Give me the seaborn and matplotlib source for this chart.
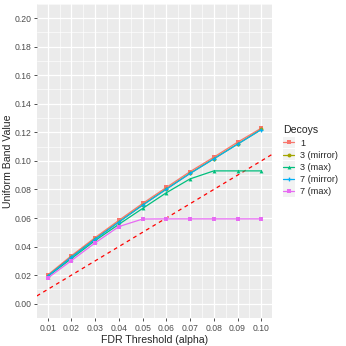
import numpy as np
import pandas as pd
import matplotlib
matplotlib.use("Agg")
import matplotlib.pyplot as plt
from matplotlib.patches import Rectangle
from matplotlib.ticker import MultipleLocator
import seaborn as sns

# Data
alpha = [0.01, 0.02, 0.03, 0.04, 0.05, 0.06, 0.07, 0.08, 0.09, 0.10]
decoys = ["1", "3 (mirror)", "3 (max)", "7 (mirror)", "7 (max)"]
band_1 = [0.0201, 0.0336, 0.0463, 0.0584, 0.0702, 0.0814, 0.0925, 0.1026, 0.1131, 0.1229]
band_3_mirror = [0.0194, 0.0327, 0.0453, 0.0573, 0.0691, 0.0803, 0.0913, 0.1015, 0.1118, 0.1220]
band_3_max = [0.0190, 0.0316, 0.0442, 0.0556, 0.0667, 0.0777, 0.0874, 0.0930, 0.0930, 0.0930]
band_7_mirror = [0.0193, 0.0326, 0.0452, 0.0572, 0.0690, 0.0802, 0.0912, 0.1014, 0.1117, 0.1219]
band_7_max = [0.0179, 0.0302, 0.0426, 0.0540, 0.0593, 0.0594, 0.0594, 0.0594, 0.0594, 0.0594]

colors = ["#F8766D", "#A3A500", "#00BF7D", "#00B0F6", "#E76BF3"]
markers = ["s", "o", "^", "P", "s"]

df = pd.DataFrame({
    "alpha": alpha * 5,
    "value": band_1 + band_3_mirror + band_3_max + band_7_mirror + band_7_max,
    "Decoys": [d for d in decoys for _ in alpha],
})

sns.set_theme(style="darkgrid")
plt.rcParams["font.family"] = ["Liberation Sans", "DejaVu Sans"]

fig = plt.figure(figsize=(3.46, 3.46), dpi=100)
ax = fig.add_axes([0.107, 0.081, 0.679, 0.908])
ax.set_facecolor("#EBEBEB")

sns.lineplot(data=df, x="alpha", y="value", hue="Decoys", style="Decoys",
             hue_order=decoys, style_order=decoys,
             palette=dict(zip(decoys, colors)),
             markers=dict(zip(decoys, markers)), dashes=False,
             markersize=2.8, markeredgewidth=0, linewidth=0.9, ax=ax)

# reference line y = x
xs = np.array([0.0, 0.2])
ax.plot(xs, xs, color="red", linestyle=(0, (3, 3)), linewidth=0.9, zorder=1)

ax.set_xlim(0.0055, 0.1045)
ax.set_ylim(-0.01, 0.21)
ax.xaxis.set_minor_locator(MultipleLocator(0.005))
ax.yaxis.set_minor_locator(MultipleLocator(0.01))
ax.set_xticks(alpha)
ax.set_xticklabels([f"{a:.2f}" for a in alpha])
yt = np.arange(0, 0.201, 0.02)
ax.set_yticks(yt)
ax.set_yticklabels([f"{v:.2f}" for v in yt])
ax.grid(which="major", color="white", linewidth=0.9)
ax.grid(which="minor", color="white", linewidth=0.45)
ax.tick_params(axis="both", which="major", labelsize=6.2, labelcolor="#4D4D4D",
               length=2.5, width=0.6, color="#333333", pad=1.5, bottom=True, left=True)
ax.tick_params(which="minor", length=0)
for s in ax.spines.values():
    s.set_visible(False)

ax.set_xlabel("FDR Threshold (alpha)", fontsize=7.6, labelpad=2)
ax.set_ylabel("Uniform Band Value", fontsize=7.6, labelpad=1)

handles, labels = ax.get_legend_handles_labels()
leg = ax.legend(handles, labels, title="Decoys", loc="center left",
                bbox_to_anchor=(1.02, 0.5), frameon=False, fontsize=6.6,
                title_fontsize=7.6, handlelength=1.2, labelspacing=0.35,
                borderpad=0.2, handletextpad=0.7, alignment="left")

# grey legend key backgrounds like ggplot
fig.canvas.draw()
inv = fig.transFigure.inverted()
for h in leg.legend_handles:
    bb = h.get_window_extent(fig.canvas.get_renderer())
    cx, cy = (bb.x0 + bb.x1) / 2, (bb.y0 + bb.y1) / 2
    (x0, y0) = inv.transform((cx - 6, cy - 5.8))
    (x1, y1) = inv.transform((cx + 6, cy + 5.8))
    ax.add_patch(Rectangle((x0, y0), x1 - x0, y1 - y0, transform=fig.transFigure,
                           facecolor="#F2F2F2", edgecolor="none", clip_on=False, zorder=4))

fig.savefig("out.png", dpi=100)
